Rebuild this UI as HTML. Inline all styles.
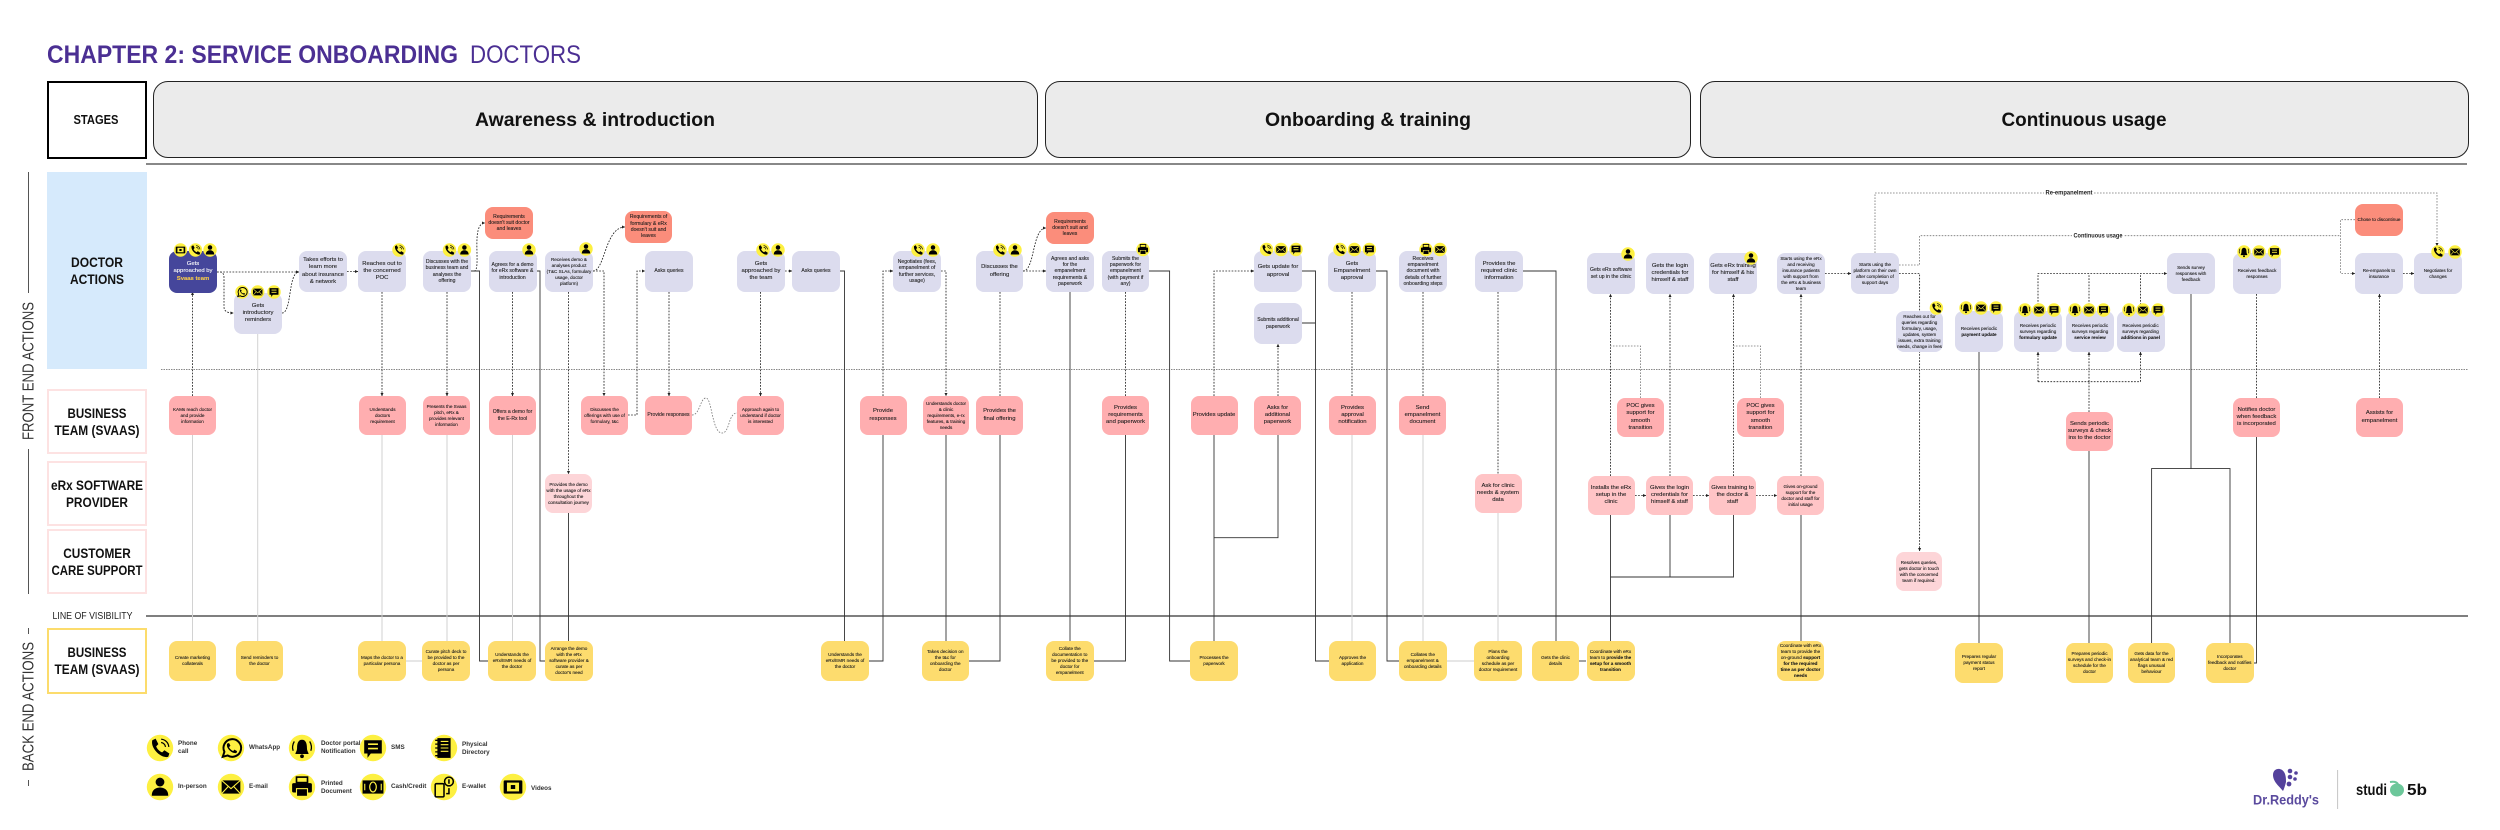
<!DOCTYPE html>
<html><head><meta charset="utf-8"><title>Chapter 2: Service Onboarding - Doctors</title>
<style>
html,body{margin:0;padding:0;background:#fff}
#p{position:relative;width:2500px;height:830px;overflow:hidden;background:#fff;font-family:"Liberation Sans",sans-serif}
svg{position:absolute;left:0;top:0}
.n{position:absolute;width:48px;height:41px;border-radius:8px;display:flex;align-items:center;justify-content:center;text-align:center;color:#1c1c1c;box-sizing:border-box;white-space:nowrap;z-index:1;-webkit-text-stroke:.1px currentColor}
.d{background:#dcdcee}.k{background:#ffaeb0;height:39px;width:47px}.l{background:#ffc4c6;height:39px;width:47px}.m{background:#fdd5d8;height:39px;width:47px}
.r{background:#fb8d7b;height:32px}.y{background:#fddc6e;height:40px}
.s4{font-size:4.6px;line-height:6px}.s5{font-size:5.1px;line-height:6.3px}.s6{font-size:5.9px;line-height:7.3px}.s7{font-size:6.4px;line-height:7.9px}
.lane{position:absolute;left:47px;width:100px;box-sizing:border-box}
.pill{position:absolute;top:81px;height:77px;box-sizing:border-box;border:1.5px solid #222;border-radius:15px;background:#ebebeb}
.lg{position:absolute;font-size:6.3px;font-weight:bold;line-height:8px;color:#333;white-space:nowrap;z-index:3}
</style></head><body><div id="p">

<div class="lane" style="top:81px;left:46.500px;height:78px;border:2.500px solid #000"></div>
<div class="pill" style="left:153px;width:885px"></div>
<div class="pill" style="left:1045px;width:646px"></div>
<div class="pill" style="left:1700px;width:769px"></div>
<div class="lane" style="top:172px;height:197px;background:#d6eafc"></div>
<div class="lane" style="top:389px;height:65px;border:2px solid #fde2e2"></div>
<div class="lane" style="top:461px;height:65px;border:2px solid #fde2e2"></div>
<div class="lane" style="top:529px;height:65px;border:2px solid #fde2e2"></div>
<div class="lane" style="top:628px;height:66px;border:2px solid #fcdc6c"></div>

<svg width="2500" height="830" viewBox="0 0 2500 830">
<defs>
<marker id="a" markerUnits="userSpaceOnUse" markerWidth="4" markerHeight="4" refX="3.200" refY="2" orient="auto"><path d="M0 .4L3.400 2L0 3.600Z" fill="#222"/></marker>
</defs>
<path d="M146 164H2467" stroke="#777" stroke-width="1.800" fill="none"/>
<path d="M161 369.500H2468" stroke="#888" stroke-width="1" stroke-dasharray="1.500 1" fill="none"/>
<path d="M146 616H2468" stroke="#555" stroke-width="1.600" fill="none"/>
<path d="M28.500 172V293M28.500 449V594M28.500 628V634M28.500 780V786" stroke="#555" stroke-width="1" fill="none"/>

<!-- light grey solids -->
<g stroke="#d2d2d2" stroke-width="1" fill="none">
<path d="M192.500 435V641M257.700 333V641M382 435V641M447 435V641M512.500 435V641M1352 435V641M1423 435V641M1498 513V641"/>
<path d="M406 661H422M1447 661H1474" stroke-width="1.500" stroke="#ddd"/>
</g>

<!-- dark solids -->
<g stroke="#333" stroke-width=".9" fill="none">
<path d="M471 271H479.500V661H488"/>
<path d="M537 271H540V661H545"/>
<path d="M568.500 513V641"/>
<path d="M840 271H844.500V641"/>
<path d="M883 435V661H868.600"/>
<path d="M946 435V641"/>
<path d="M1000 435V661H969"/>
<path d="M1070 292V641"/>
<path d="M1125.500 435V661H1093.500"/>
<path d="M1149 271H1169.600V661H1190"/>
<path d="M1214 435V641"/>
<path d="M1278 435V537.700H1214"/>
<path d="M1302 271H1315.500V661H1329M1302 323H1315.500"/>
<path d="M1376 271H1387V661H1399"/>
<path d="M1523 271H1556V641"/>
<path d="M1579 661H1586"/>
<path d="M1610.500 515V641"/>
<path d="M1670 515V577"/>
<path d="M1733.500 515V577H1610.500"/>
<path d="M1801 515V641"/>
<path d="M1979 351V643"/>
<path d="M2089 451V643"/>
<path d="M2191 294V468.600M2151.600 643V468.600H2230V643"/>
<path d="M2256.500 437V663H2253.500"/>
</g>

<!-- dark dashed -->
<g stroke="#222" stroke-width=".85" stroke-dasharray="1.700 1.400" fill="none">
<path d="M192.500 396V292" marker-end="url(#a)"/>
<path d="M217 272H299" marker-end="url(#a)"/>
<path d="M217 272H220Q224 272 224 278V307Q224 313 233.500 313" marker-end="url(#a)"/>
<path d="M282 313C292 313 288 272 299 272" marker-end="url(#a)"/>
<path d="M347 271.500H358" marker-end="url(#a)"/>
<path d="M382 292V396" marker-end="url(#a)"/>
<path d="M447 292V396" marker-end="url(#a)"/>
<path d="M474 271C482 271 470 223 485 223" marker-end="url(#a)"/>
<path d="M512.500 292V396" marker-end="url(#a)"/>
<path d="M568.500 292V474" marker-end="url(#a)"/>
<path d="M593 271H604V396" marker-end="url(#a)"/>
<path d="M593 271C605 271 605 227 625 227" marker-end="url(#a)"/>
<path d="M628 415H637V271H645" marker-end="url(#a)"/>
<path d="M669 292V396" marker-end="url(#a)"/>
<path d="M760.500 292V396" marker-end="url(#a)"/>
<path d="M785 271H792" marker-end="url(#a)"/>
<path d="M883 396V271H893" marker-end="url(#a)"/>
<path d="M941 271H946V396" marker-end="url(#a)"/>
<path d="M1000 292V396"/>
<path d="M1023 271H1046" marker-end="url(#a)"/>
<path d="M1023 271C1035 271 1032 228 1046 228" marker-end="url(#a)"/>
<path d="M1125.500 292V396"/>
<path d="M1214 396V271H1254" marker-end="url(#a)"/>
<path d="M1278 396V344" marker-end="url(#a)"/>
<path d="M1352 292V396"/>
<path d="M1423 292V396"/>
<path d="M1498 292V474"/>
<path d="M1610.500 476V294" marker-end="url(#a)"/>
<path d="M1670 476V294" marker-end="url(#a)"/>
<path d="M1733.500 476V294" marker-end="url(#a)"/>
<path d="M1801 476V294" marker-end="url(#a)"/>
<path d="M1635 495.500H1646" marker-end="url(#a)"/>
<path d="M1693 495.500H1709" marker-end="url(#a)"/>
<path d="M1756 495.500H1777" marker-end="url(#a)"/>
<path d="M1825 273.500H1851" marker-end="url(#a)"/>
<path d="M1899 273.500H1919.600V311"/>
<path d="M1919.600 351V551" marker-end="url(#a)"/>
<path d="M2038 311V273.500H2167" marker-end="url(#a)"/>
<path d="M2089 311V273.500M2140.500 311V273.500"/>
<path d="M2089 412V381.700M2038 381.700H2140.500"/>
<path d="M2038 381.700V352" marker-end="url(#a)"/>
<path d="M2089 381.700V352" marker-end="url(#a)"/>
<path d="M2140.500 381.700V352" marker-end="url(#a)"/>
<path d="M2256.500 294V398"/>
<path d="M2379.500 398V294" marker-end="url(#a)"/>
<path d="M2403 273.500H2414" marker-end="url(#a)"/>
</g>

<!-- grey dotted -->
<g stroke="#777" stroke-width=".8" stroke-dasharray="1.600 1.400" fill="none">
<path d="M692 415C700 415 700 398 706 398C712 398 712 433 722 433C730 433 728 413 737 413"/>
<path d="M1640.500 398V346H1610.500"/>
<path d="M1760.500 398V346H1733.500"/>
<path d="M1875 253V193H2437V246" marker-end="url(#a)"/>
<path d="M1899 265H1919.600V235.700H2340.600"/>
<path d="M2355 219.700H2340.600V273.500H2355" marker-end="url(#a)"/>
</g>
<rect x="2044" y="188" width="50" height="9" fill="#fff"/>
<rect x="2072" y="231" width="52" height="9" fill="#fff"/>
<text x="2069" y="194.300" font-size="6" font-weight="bold" text-anchor="middle" fill="#222" textLength="47" lengthAdjust="spacingAndGlyphs">Re-empanelment</text>
<text x="2098" y="237.300" font-size="6" font-weight="bold" text-anchor="middle" fill="#222" textLength="49" lengthAdjust="spacingAndGlyphs">Continuous usage</text>

<!-- titles -->
<text x="47" y="63" font-size="25" font-weight="bold" fill="#4b2f93" textLength="411" lengthAdjust="spacingAndGlyphs">CHAPTER 2: SERVICE ONBOARDING</text>
<text x="470" y="63" font-size="25" fill="#4b2f93" textLength="111" lengthAdjust="spacingAndGlyphs">DOCTORS</text>
<g font-weight="bold" fill="#111" text-anchor="middle">
<text x="96" y="124" font-size="13" textLength="45" lengthAdjust="spacingAndGlyphs">STAGES</text>
<text x="595" y="126" font-size="19.500" textLength="240" lengthAdjust="spacingAndGlyphs">Awareness &amp; introduction</text>
<text x="1368" y="126" font-size="19.500" textLength="206" lengthAdjust="spacingAndGlyphs">Onboarding &amp; training</text>
<text x="2084" y="126" font-size="19.500" textLength="165" lengthAdjust="spacingAndGlyphs">Continuous usage</text>
<g font-size="13.500">
<text x="97" y="267" textLength="52" lengthAdjust="spacingAndGlyphs">DOCTOR</text>
<text x="97" y="284" textLength="54" lengthAdjust="spacingAndGlyphs">ACTIONS</text>
<text x="97" y="418" textLength="59" lengthAdjust="spacingAndGlyphs">BUSINESS</text>
<text x="97" y="435" textLength="85" lengthAdjust="spacingAndGlyphs">TEAM (SVAAS)</text>
<text x="97" y="490" textLength="92" lengthAdjust="spacingAndGlyphs">eRx SOFTWARE</text>
<text x="97" y="507" textLength="62" lengthAdjust="spacingAndGlyphs">PROVIDER</text>
<text x="97" y="558" textLength="67.500" lengthAdjust="spacingAndGlyphs">CUSTOMER</text>
<text x="97" y="575" textLength="91" lengthAdjust="spacingAndGlyphs">CARE SUPPORT</text>
<text x="97" y="657" textLength="59" lengthAdjust="spacingAndGlyphs">BUSINESS</text>
<text x="97" y="674" textLength="85" lengthAdjust="spacingAndGlyphs">TEAM (SVAAS)</text>
</g>
</g>
<text x="92.500" y="619" font-size="10" fill="#222" text-anchor="middle" textLength="80" lengthAdjust="spacingAndGlyphs">LINE OF VISIBILITY</text>
<text transform="translate(33.500,371) rotate(-90)" font-size="15.500" fill="#333" text-anchor="middle" textLength="138" lengthAdjust="spacingAndGlyphs">FRONT END ACTIONS</text>
<text transform="translate(33.500,706.500) rotate(-90)" font-size="15.500" fill="#333" text-anchor="middle" textLength="129" lengthAdjust="spacingAndGlyphs">BACK END ACTIONS</text>

<!-- logos -->
<g fill="#54419c">
<path d="M2273 775C2273 768 2281 767 2284 772C2286 775 2286 779 2286 782C2285 786 2284 789 2283 791C2280 787 2273 782 2273 775Z"/>
<circle cx="2290" cy="771" r="2.300"/><circle cx="2296" cy="773" r="1.800"/><circle cx="2290" cy="777" r="2.300"/><circle cx="2295" cy="779" r="1.800"/><circle cx="2289" cy="784" r="2.400"/>
</g>
<text x="2286" y="804.500" font-size="14" font-weight="bold" fill="#5a4a9e" text-anchor="middle" textLength="66" lengthAdjust="spacingAndGlyphs">Dr.Reddy's</text>
<path d="M2337.600 770V809" stroke="#c4c4c4" stroke-width="1"/>
<text x="2356" y="795" font-size="15.500" font-weight="bold" fill="#111" textLength="31" lengthAdjust="spacingAndGlyphs">studi</text>
<ellipse cx="2397" cy="790" rx="7" ry="6.500" fill="#6cc79a"/>
<path d="M2390 782Q2396 781 2398 784" stroke="#6cc79a" stroke-width="2" fill="none"/>
<text x="2407" y="795" font-size="15.500" font-weight="bold" fill="#111" textLength="20" lengthAdjust="spacingAndGlyphs">5b</text>
</svg>

<!-- doctor row -->
<div class="n d s6" style="left:169px;top:251px;height:42px;background:#45469b;color:#fff"><span>Gets<br>approached by<br><b style="color:#f5c84a">Svaas team</b></span></div>
<div class="n d s6" style="left:234px;top:293px"><span>Gets<br>introductory<br>reminders</span></div>
<div class="n d s6" style="left:299px;top:251px"><span>Takes efforts to<br>learn more<br>about insurance<br>&amp; network</span></div>
<div class="n d s6" style="left:358px;top:251px"><span>Reaches out to<br>the concerned<br>POC</span></div>
<div class="n d s5" style="left:423px;top:251px"><span>Discusses with the<br>business team and<br>analyses the<br>offering</span></div>
<div class="n d s5" style="left:488.500px;top:251px"><span>Agrees for a demo<br>for eRx software &amp;<br>introduction</span></div>
<div class="n d s4" style="left:545px;top:251px"><span>Receives demo &amp;<br>analyses product<br>(T&amp;C SLAs, formulary<br>usage, doctor<br>platform)</span></div>
<div class="n r s5" style="left:485px;top:207px"><span>Requirements<br>doesn't suit doctor<br>and leaves</span></div>
<div class="n r s5" style="left:625px;top:211px;width:47px"><span>Requirements of<br>formulary &amp; eRx<br>doesn't suit and<br>leaves</span></div>
<div class="n d s5" style="left:645px;top:251px"><span>Asks queries</span></div>
<div class="n d s6" style="left:737px;top:251px"><span>Gets<br>approached by<br>the team</span></div>
<div class="n d s5" style="left:792px;top:251px"><span>Asks queries</span></div>
<div class="n d s5" style="left:893px;top:251px"><span>Negotiates (fees,<br>empanelment of<br>further services,<br>usage)</span></div>
<div class="n d s6" style="left:976px;top:251px;width:47px"><span>Discusses the<br>offering</span></div>
<div class="n r s5" style="left:1046px;top:212px"><span>Requirements<br>doesn't suit and<br>leaves</span></div>
<div class="n d s5" style="left:1046px;top:251px"><span>Agrees and asks<br>for the<br>empanelment<br>requirements &amp;<br>paperwork</span></div>
<div class="n d s5" style="left:1102px;top:251px;width:47px"><span>Submits the<br>paperwork for<br>empanelment<br>(with payment if<br>any)</span></div>
<div class="n d s6" style="left:1254px;top:251px"><span>Gets update for<br>approval</span></div>
<div class="n d s5" style="left:1254px;top:303px"><span>Submits additional<br>paperwork</span></div>
<div class="n d s6" style="left:1328px;top:251px"><span>Gets<br>Empanelment<br>approval</span></div>
<div class="n d s5" style="left:1399px;top:251px"><span>Receives<br>empanelment<br>document with<br>details of further<br>onboarding steps</span></div>
<div class="n d s6" style="left:1475px;top:251px"><span>Provides the<br>required clinic<br>information</span></div>
<div class="n d s5" style="left:1587px;top:253px"><span>Gets eRx software<br>set up in the clinic</span></div>
<div class="n d s6" style="left:1646px;top:253px"><span>Gets the login<br>credentials for<br>himself &amp; staff</span></div>
<div class="n d s6" style="left:1709px;top:253px"><span>Gets eRx training<br>for himself &amp; his<br>staff</span></div>
<div class="n d s4" style="left:1777px;top:253px"><span>Starts using the eRx<br>and receiving<br>insurance patients<br>with support from<br>the eRx &amp; business<br>team</span></div>
<div class="n d s4" style="left:1851px;top:253px"><span>Starts using the<br>platform on their own<br>after completion of<br>support days</span></div>
<div class="n d s4" style="left:2167px;top:253px"><span>Sends survey<br>responses with<br>feedback</span></div>
<div class="n d s4" style="left:2233px;top:253px"><span>Receives feedback<br>responses</span></div>
<div class="n d s4" style="left:2355px;top:253px"><span>Re-empanels to<br>insurance</span></div>
<div class="n d s4" style="left:2414px;top:253px"><span>Negotiates for<br>changes</span></div>
<div class="n r s4" style="left:2355px;top:204px"><span>Chose to discontinue</span></div>
<div class="n d s4" style="left:1896px;top:311px;width:47px"><span>Reaches out for<br>queries regarding<br>formulary, usage,<br>updates, system<br>issues, extra training<br>needs, change in fees</span></div>
<div class="n d s4" style="left:1955px;top:311px"><span>Receives periodic<br><b>payment update</b></span></div>
<div class="n d s4" style="left:2014px;top:311px"><span>Receives periodic<br>surveys regarding<br><b>formulary update</b></span></div>
<div class="n d s4" style="left:2066px;top:311px"><span>Receives periodic<br>surveys regarding<br><b>service review</b></span></div>
<div class="n d s4" style="left:2116.500px;top:311px"><span>Receives periodic<br>surveys regarding<br><b>additions in panel</b></span></div>

<!-- business row -->
<div class="n k s4" style="left:169px;top:396px"><span>KAMs reach doctor<br>and provide<br>information</span></div>
<div class="n k s4" style="left:359px;top:396px"><span>Understands<br>doctors<br>requirement</span></div>
<div class="n k s4" style="left:423px;top:396px"><span>Presents the Svaas<br>pitch, eRx &amp;<br>provides relevant<br>information</span></div>
<div class="n k s5" style="left:489px;top:396px"><span>Offers a demo for<br>the E-Rx tool</span></div>
<div class="n k s4" style="left:581px;top:396px"><span>Discusses the<br>offerings with use of<br>formulary, t&amp;c</span></div>
<div class="n k s5" style="left:645px;top:396px"><span>Provide responses</span></div>
<div class="n k s4" style="left:737px;top:396px"><span>Approach again to<br>understand if doctor<br>is interested</span></div>
<div class="n k s6" style="left:859.500px;top:396px"><span>Provide<br>responses</span></div>
<div class="n k s4" style="left:923px;top:396px;width:46px"><span>Understands doctor<br>&amp; clinic<br>requirements, e-rx<br>features, &amp; training<br>needs</span></div>
<div class="n k s6" style="left:976px;top:396px"><span>Provides the<br>final offering</span></div>
<div class="n k s6" style="left:1102px;top:396px"><span>Provides<br>requirements<br>and paperwork</span></div>
<div class="n k s6" style="left:1190.500px;top:396px"><span>Provides update</span></div>
<div class="n k s6" style="left:1254px;top:396px"><span>Asks for<br>additional<br>paperwork</span></div>
<div class="n k s6" style="left:1329px;top:396px"><span>Provides<br>approval<br>notification</span></div>
<div class="n k s6" style="left:1399px;top:396px"><span>Send<br>empanelment<br>document</span></div>
<div class="n k s6" style="left:1617px;top:398px"><span>POC gives<br>support for<br>smooth<br>transition</span></div>
<div class="n k s6" style="left:1737px;top:398px"><span>POC gives<br>support for<br>smooth<br>transition</span></div>
<div class="n k s6" style="left:2233px;top:398px"><span>Notifies doctor<br>when feedback<br>is incorporated</span></div>
<div class="n k s6" style="left:2356px;top:398px"><span>Assists for<br>empanelment</span></div>
<div class="n k s6" style="left:2066px;top:412px"><span>Sends periodic<br>surveys &amp; check<br>ins to the doctor</span></div>

<!-- eRx + support -->
<div class="n m s4" style="left:545px;top:474px"><span>Provides the demo<br>with the usage of eRx<br>throughout the<br>consultation journey</span></div>
<div class="n l s6" style="left:1474.500px;top:474px"><span>Ask for clinic<br>needs &amp; system<br>data</span></div>
<div class="n l s6" style="left:1587.500px;top:476px"><span>Installs the eRx<br>setup in the<br>clinic</span></div>
<div class="n l s6" style="left:1646px;top:476px"><span>Gives the login<br>credentials for<br>himself &amp; staff</span></div>
<div class="n l s6" style="left:1709px;top:476px"><span>Gives training to<br>the doctor &amp;<br>staff</span></div>
<div class="n l s4" style="left:1777px;top:476px"><span>Gives on-ground<br>support for the<br>doctor and staff for<br>initial usage</span></div>
<div class="n m s4" style="left:1896px;top:552px;width:46px"><span>Resolves queries,<br>gets doctor in touch<br>with the concerned<br>team if required.</span></div>

<!-- yellow row -->
<div class="n y s4" style="left:169px;top:641px;width:47px"><span>Create marketing<br>collaterals</span></div>
<div class="n y s4" style="left:236px;top:641px;width:47px"><span>Send reminders to<br>the doctor</span></div>
<div class="n y s4" style="left:358px;top:641px"><span>Maps the doctor to a<br>particular persona</span></div>
<div class="n y s4" style="left:422px;top:641px"><span>Curate pitch deck to<br>be provided to the<br>doctor as per<br>persona</span></div>
<div class="n y s4" style="left:488px;top:641px"><span>Understands the<br>eRx/EMR needs of<br>the doctor</span></div>
<div class="n y s4" style="left:545px;top:641px"><span>Arrange the demo<br>with the eRx<br>software provider &amp;<br>curate as per<br>doctor's need</span></div>
<div class="n y s4" style="left:821px;top:641px"><span>Understands the<br>eRx/EMR needs of<br>the doctor</span></div>
<div class="n y s4" style="left:921.600px;top:641px;width:47.400px"><span>Takes decision on<br>the t&amp;c for<br>onboarding the<br>doctor</span></div>
<div class="n y s4" style="left:1046px;top:641px;width:47.500px"><span>Collate the<br>documentation to<br>be provided to the<br>doctor for<br>empanelment</span></div>
<div class="n y s4" style="left:1190px;top:641px"><span>Processes the<br>paperwork</span></div>
<div class="n y s4" style="left:1329px;top:641px;width:47px"><span>Approves the<br>application</span></div>
<div class="n y s4" style="left:1399px;top:641px;width:47.500px"><span>Collates the<br>empanelment &amp;<br>onboarding details</span></div>
<div class="n y s4" style="left:1474px;top:641px"><span>Plans the<br>onboarding<br>schedule as per<br>doctor requirement</span></div>
<div class="n y s4" style="left:1532px;top:641px;width:47px"><span>Gets the clinic<br>details</span></div>
<div class="n y s4" style="left:1586.500px;top:641px"><span>Coordinate with eRx<br>team to <b>provide the<br>setup for a smooth<br>transition</b></span></div>
<div class="n y s4" style="left:1777px;top:641px;width:47px"><span>Coordinate with eRx<br>team to provide the<br>on-ground <b>support<br>for the required<br>time as per doctor<br>needs</b></span></div>
<div class="n y s4" style="left:1955px;top:643px"><span>Prepares regular<br>payment status<br>report</span></div>
<div class="n y s4" style="left:2066px;top:643px;width:47px"><span>Prepares periodic<br>surveys and check-in<br>schedule for the<br>doctor</span></div>
<div class="n y s4" style="left:2128px;top:643px;width:47px"><span>Gets data for the<br>analytical team &amp; red<br>flags unusual<br>behaviour</span></div>
<div class="n y s4" style="left:2206px;top:643px;width:47.500px"><span>Incorporates<br>feedback and notifies<br>doctor</span></div>

<!-- icons -->
<svg width="2500" height="830" viewBox="0 0 2500 830" style="z-index:2">
<defs>
<circle id="bg" r="12" fill="#fdf041"/>
<g id="ph"><use href="#bg"/><path d="M-7-7L-4-8.500L-1.500-3.500L-3.500-1.500C-2.500 1 -.5 3 2 4L4 2L8.500 5L7.500 8C1 10-9 0-7-7Z" fill="#000"/><path d="M1-8A7.500 7.500 0 0 1 8-1M1-5A4.500 4.500 0 0 1 5-1" stroke="#000" stroke-width="1.100" fill="none"/></g>
<g id="pe"><use href="#bg"/><circle cy="-4.500" r="4" fill="#000"/><path d="M-7.500 8C-7.500 2-3 .5 0 .5C3 .5 7.500 2 7.500 8Z" fill="#000"/></g>
<g id="ma"><use href="#bg"/><rect x="-8.500" y="-6" width="17" height="12" fill="#000"/><path d="M-8.500-6L0 1.500L8.500-6M-8.500 6L-2.500-.5M8.500 6L2.500-.5" stroke="#fdf041" stroke-width="1" fill="none"/></g>
<g id="sm"><use href="#bg"/><path d="M-8-7H8V5H-2L-5 9V5H-8Z" fill="#000"/><path d="M-4.500-3.500H4.500M-4.500 .5H4.500" stroke="#fdf041" stroke-width="1.500"/></g>
<g id="wa"><use href="#bg"/><path d="M-7.500 8L-6 3.500A8 8 0 1 1-3 6.800Z" fill="none" stroke="#000" stroke-width="1.800"/><path d="M-3.500-4L-1.800-4.500L-.5-2L-1.800-.8C-1 1 .3 2 2 2.800L3 1.500L5.500 2.800L5 4.500C1 5.500-5 0-3.500-4Z" fill="#000"/></g>
<g id="be"><use href="#bg"/><path d="M0-7.500C-3.500-7.500-4.500-4-4.500 0C-4.500 3-6 4-6 5.500H6C6 4 4.500 3 4.500 0C4.500-4 3.500-7.500 0-7.500Z" fill="#000"/><circle cy="7.500" r="1.700" fill="#000"/><path d="M-7-6C-9-2.500-9 0-8 2.500M7-6C9-2.500 9 0 8 2.500" stroke="#000" stroke-width="1.200" fill="none"/></g>
<g id="pr"><use href="#bg"/><rect x="-5" y="-9" width="10" height="5" fill="none" stroke="#000" stroke-width="1.500"/><rect x="-9" y="-3.500" width="18" height="8.500" rx="1.500" fill="#000"/><rect x="-5" y="1.500" width="10" height="7" fill="#000" stroke="#fdf041"/></g>
<g id="vi"><use href="#bg"/><rect x="-8.500" y="-6" width="17" height="12" rx="1" fill="#000"/><rect x="-5.500" y="-4" width="11" height="8" fill="#fdf041"/><rect x="-2" y="-1.800" width="4" height="3.600" fill="#000"/></g>
<g id="ca"><use href="#bg"/><rect x="-9.500" y="-6" width="19" height="12" fill="#000"/><ellipse rx="3" ry="4.500" fill="none" stroke="#fdf041" stroke-width="1.100"/><path d="M-7.500-3V3M7.500-3V3" stroke="#fdf041"/></g>
<g id="we"><use href="#bg"/><rect x="-8" y="-3" width="8" height="12" rx="1" fill="none" stroke="#000" stroke-width="1.400"/><circle cx="4.500" cy="-5" r="4" fill="none" stroke="#000" stroke-width="1.400"/><path d="M4.500-7V-3M4.500 1V6H2" stroke="#000" stroke-width="1.400" fill="none"/></g>
<g id="di"><use href="#bg"/><rect x="-6" y="-9" width="12" height="18" fill="#000"/><path d="M-3-6H4M-3-3H4M-3 0H4M-3 3H4" stroke="#fdf041"/><path d="M-8-7H-5M-8-3.500H-5M-8 0H-5M-8 3.500H-5M-8 7H-5" stroke="#000" stroke-width="1.200"/></g>
</defs>
<use href="#vi" transform="translate(180.500,250) scale(.56)"/><use href="#ph" transform="translate(195.500,250) scale(.56)"/><use href="#pe" transform="translate(210,250) scale(.56)"/>
<use href="#wa" transform="translate(242,292) scale(.56)"/><use href="#ma" transform="translate(257.700,292) scale(.56)"/><use href="#sm" transform="translate(274,292) scale(.56)"/>
<use href="#ph" transform="translate(399,250) scale(.56)"/>
<use href="#ph" transform="translate(449.500,250) scale(.56)"/><use href="#pe" transform="translate(464.400,250) scale(.56)"/>
<use href="#pe" transform="translate(529,250) scale(.56)"/>
<use href="#pe" transform="translate(586,249) scale(.56)"/>
<use href="#ph" transform="translate(763,250) scale(.56)"/><use href="#pe" transform="translate(778,250) scale(.56)"/>
<use href="#ph" transform="translate(918,250) scale(.56)"/><use href="#pe" transform="translate(933,250) scale(.56)"/>
<use href="#ph" transform="translate(1000,250) scale(.56)"/><use href="#pe" transform="translate(1015,250) scale(.56)"/>
<use href="#pr" transform="translate(1143,249.500) scale(.56)"/>
<use href="#ph" transform="translate(1266.600,249.500) scale(.56)"/><use href="#ma" transform="translate(1281,249.500) scale(.56)"/><use href="#sm" transform="translate(1296,249.500) scale(.56)"/>
<use href="#ph" transform="translate(1340,249.500) scale(.56)"/><use href="#ma" transform="translate(1354.400,249.500) scale(.56)"/><use href="#sm" transform="translate(1369.400,249.500) scale(.56)"/>
<use href="#pr" transform="translate(1426,249.500) scale(.56)"/><use href="#ma" transform="translate(1440,249.500) scale(.56)"/>
<use href="#pe" transform="translate(1628,254) scale(.56)"/>
<use href="#pe" transform="translate(1751,258) scale(.56)"/>
<use href="#ph" transform="translate(1936.400,308) scale(.56)"/>
<use href="#be" transform="translate(1966,308) scale(.56)"/><use href="#ma" transform="translate(1981,308) scale(.56)"/><use href="#sm" transform="translate(1996,308) scale(.56)"/>
<use href="#be" transform="translate(2025,310) scale(.56)"/><use href="#ma" transform="translate(2039,310) scale(.56)"/><use href="#sm" transform="translate(2054,310) scale(.56)"/>
<use href="#be" transform="translate(2075,310) scale(.56)"/><use href="#ma" transform="translate(2089,310) scale(.56)"/><use href="#sm" transform="translate(2103.500,310) scale(.56)"/>
<use href="#be" transform="translate(2129,310) scale(.56)"/><use href="#ma" transform="translate(2143,310) scale(.56)"/><use href="#sm" transform="translate(2158,310) scale(.56)"/>
<use href="#be" transform="translate(2244,252) scale(.56)"/><use href="#ma" transform="translate(2259,252) scale(.56)"/><use href="#sm" transform="translate(2274.500,252) scale(.56)"/>
<use href="#ph" transform="translate(2438,252) scale(.56)"/><use href="#ma" transform="translate(2455,252) scale(.56)"/>

<use href="#ph" transform="translate(160,748) scale(1.100)"/><use href="#wa" transform="translate(231,748) scale(1.100)"/><use href="#be" transform="translate(302,748) scale(1.100)"/><use href="#sm" transform="translate(373,748) scale(1.100)"/><use href="#di" transform="translate(444,748) scale(1.100)"/>
<use href="#pe" transform="translate(160,787) scale(1.100)"/><use href="#ma" transform="translate(231,787) scale(1.100)"/><use href="#pr" transform="translate(302,787) scale(1.100)"/><use href="#ca" transform="translate(373,787) scale(1.100)"/><use href="#we" transform="translate(444,787) scale(1.100)"/><use href="#vi" transform="translate(513,787) scale(1.100)"/>
</svg>

<div class="lg" style="left:178px;top:740px">Phone<br>call</div>
<div class="lg" style="left:249px;top:744px">WhatsApp</div>
<div class="lg" style="left:321px;top:740px">Doctor portal<br>Notification</div>
<div class="lg" style="left:391px;top:744px">SMS</div>
<div class="lg" style="left:462px;top:741px">Physical<br>Directory</div>
<div class="lg" style="left:178px;top:783px">In-person</div>
<div class="lg" style="left:249px;top:783px">E-mail</div>
<div class="lg" style="left:321px;top:779.500px">Printed<br>Document</div>
<div class="lg" style="left:391px;top:783px">Cash/Credit</div>
<div class="lg" style="left:462px;top:783px">E-wallet</div>
<div class="lg" style="left:531px;top:785px">Videos</div>
</div></body></html>
